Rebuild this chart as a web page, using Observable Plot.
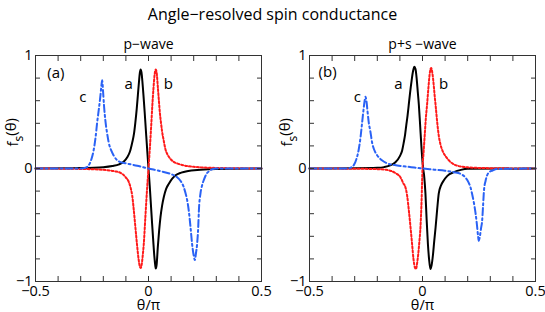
<!DOCTYPE html>
<html><head><meta charset="utf-8">
<script src="https://cdn.jsdelivr.net/npm/d3@7"></script>
<script src="https://cdn.jsdelivr.net/npm/@observablehq/plot@0.6"></script>
<style>
body{margin:0;background:#fff;}
#wrap{position:relative;width:545px;height:312px;font-family:"Open Sans",sans-serif;color:#000;overflow:hidden;background:#fff}
#title{position:absolute;top:4px;left:0;width:545px;text-align:center;font-size:16px;line-height:20px}
.panel{position:absolute;top:30px}
</style></head><body>
<div id="wrap"><div id="title">Angle−resolved spin conductance</div><div id="p1" class="panel" style="left:0"></div><div id="p2" class="panel" style="left:272px"></div></div>
<script>
// ---- tick values and labels ----
const xMinorTicks = [-0.5,-0.4,-0.3,-0.2,-0.1,0,0.1,0.2,0.3,0.4,0.5];
const yMinorTicks = [-1,-0.8,-0.6,-0.4,-0.2,0,0.2,0.4,0.6,0.8,1];
const xTickLabels = [-0.5,0,0.5];
const yTickLabels = [-1,0,1];
const panelTitles = ["p−wave","p+s −wave"];
const xLabel = "θ/π";

// ---- left panel (p-wave): [theta/pi, f_s] ----
const aLeft = [[-0.5,0],[-0.3,0.004],[-0.2,0.012],[-0.16,0.022],[-0.13,0.037],[-0.11,0.06],[-0.094,0.10],[-0.082,0.15],[-0.072,0.23],[-0.064,0.31],[-0.058,0.41],[-0.052,0.53],[-0.047,0.65],[-0.042,0.77],[-0.038,0.85],[-0.035,0.876],[-0.031,0.85],[-0.027,0.77],[-0.022,0.64],[-0.017,0.50],[-0.012,0.35],[-0.006,0.17],[0,0],[0.006,-0.17],[0.011,-0.33],[0.016,-0.49],[0.021,-0.64],[0.026,-0.78],[0.03,-0.86],[0.032,-0.885],[0.036,-0.85],[0.041,-0.70],[0.047,-0.55],[0.053,-0.43],[0.06,-0.33],[0.068,-0.25],[0.078,-0.18],[0.09,-0.135],[0.105,-0.09],[0.12,-0.06],[0.145,-0.037],[0.17,-0.024],[0.23,-0.012],[0.3,-0.005],[0.5,0]];
const bLeft = [[-0.5,0],[-0.3,-0.004],[-0.2,-0.012],[-0.15,-0.025],[-0.124,-0.038],[-0.1,-0.08],[-0.087,-0.12],[-0.078,-0.18],[-0.072,-0.24],[-0.065,-0.37],[-0.058,-0.52],[-0.051,-0.67],[-0.044,-0.80],[-0.038,-0.87],[-0.035,-0.88],[-0.031,-0.86],[-0.026,-0.78],[-0.021,-0.67],[-0.013,-0.40],[-0.006,-0.17],[0,0],[0.006,0.18],[0.012,0.38],[0.017,0.56],[0.022,0.71],[0.027,0.83],[0.032,0.876],[0.036,0.85],[0.041,0.73],[0.046,0.60],[0.05,0.50],[0.055,0.41],[0.06,0.33],[0.067,0.25],[0.075,0.17],[0.085,0.12],[0.097,0.085],[0.115,0.055],[0.134,0.04],[0.17,0.022],[0.2,0.015],[0.3,0.005],[0.5,0]];
const cLeft = [[-0.5,0],[-0.3,0],[-0.275,0.01],[-0.264,0.03],[-0.253,0.08],[-0.242,0.17],[-0.234,0.28],[-0.227,0.41],[-0.22,0.52],[-0.213,0.64],[-0.208,0.74],[-0.205,0.78],[-0.201,0.68],[-0.197,0.56],[-0.19,0.41],[-0.183,0.31],[-0.176,0.23],[-0.165,0.16],[-0.154,0.115],[-0.14,0.075],[-0.124,0.056],[-0.1,0.045],[-0.05,0.025],[0,0],[0.05,-0.022],[0.1,-0.05],[0.125,-0.075],[0.142,-0.11],[0.155,-0.16],[0.164,-0.22],[0.172,-0.29],[0.178,-0.37],[0.186,-0.52],[0.193,-0.67],[0.2,-0.77],[0.205,-0.81],[0.21,-0.75],[0.215,-0.67],[0.22,-0.52],[0.223,-0.37],[0.23,-0.22],[0.237,-0.15],[0.245,-0.10],[0.256,-0.05],[0.267,-0.025],[0.28,-0.008],[0.3,0],[0.5,0]];

// ---- right panel (p+s-wave) ----
const aRight = [[-0.5,0],[-0.3,0.002],[-0.2,0.006],[-0.17,0.012],[-0.14,0.03],[-0.12,0.056],[-0.1,0.11],[-0.09,0.16],[-0.083,0.23],[-0.077,0.30],[-0.072,0.38],[-0.066,0.47],[-0.061,0.56],[-0.055,0.67],[-0.048,0.78],[-0.042,0.86],[-0.036,0.90],[-0.031,0.88],[-0.026,0.80],[-0.021,0.68],[-0.016,0.56],[-0.011,0.40],[-0.005,0.20],[0,0.06],[0.003,0],[0.008,-0.08],[0.013,-0.22],[0.018,-0.44],[0.024,-0.67],[0.029,-0.80],[0.035,-0.89],[0.04,-0.86],[0.046,-0.77],[0.052,-0.64],[0.058,-0.52],[0.065,-0.36],[0.072,-0.22],[0.082,-0.15],[0.094,-0.106],[0.11,-0.065],[0.139,-0.032],[0.17,-0.012],[0.2,-0.003],[0.5,0]];
const bRight = [[-0.5,0],[-0.3,-0.002],[-0.2,-0.006],[-0.16,-0.012],[-0.142,-0.02],[-0.12,-0.04],[-0.097,-0.08],[-0.085,-0.13],[-0.075,-0.17],[-0.068,-0.24],[-0.06,-0.38],[-0.053,-0.52],[-0.046,-0.67],[-0.04,-0.80],[-0.033,-0.88],[-0.029,-0.89],[-0.024,-0.84],[-0.019,-0.76],[-0.014,-0.65],[-0.009,-0.52],[-0.004,-0.28],[0,0],[0.004,0.12],[0.01,0.3],[0.015,0.45],[0.02,0.56],[0.026,0.71],[0.032,0.84],[0.038,0.89],[0.044,0.84],[0.05,0.73],[0.054,0.64],[0.058,0.56],[0.065,0.41],[0.072,0.29],[0.08,0.21],[0.09,0.15],[0.1,0.115],[0.12,0.065],[0.15,0.027],[0.2,0.01],[0.3,0.003],[0.5,0]];
const cRight = [[-0.5,0],[-0.33,0],[-0.315,0.01],[-0.304,0.03],[-0.293,0.08],[-0.282,0.17],[-0.274,0.28],[-0.267,0.41],[-0.261,0.52],[-0.256,0.60],[-0.252,0.635],[-0.247,0.58],[-0.243,0.50],[-0.238,0.41],[-0.23,0.32],[-0.223,0.23],[-0.208,0.14],[-0.2,0.115],[-0.178,0.07],[-0.156,0.045],[-0.112,0.027],[-0.05,0.012],[0,0],[0.05,-0.01],[0.1,-0.02],[0.14,-0.033],[0.168,-0.047],[0.19,-0.08],[0.203,-0.12],[0.212,-0.165],[0.22,-0.23],[0.228,-0.31],[0.235,-0.40],[0.241,-0.50],[0.246,-0.60],[0.249,-0.64],[0.254,-0.60],[0.259,-0.53],[0.264,-0.46],[0.268,-0.33],[0.272,-0.195],[0.279,-0.11],[0.286,-0.06],[0.297,-0.03],[0.31,-0.018],[0.33,-0.005],[0.5,0]];

// ---- annotations ----
const notesLeft = [{t:"(a)",x:-0.41,y:0.84},{t:"c",x:-0.29,y:0.63},{t:"a",x:-0.088,y:0.75},{t:"b",x:0.088,y:0.75}];
const notesRight = [{t:"(b)",x:-0.42,y:0.85},{t:"c",x:-0.288,y:0.63},{t:"a",x:-0.106,y:0.75},{t:"b",x:0.093,y:0.75}];

const H = 282, MT = 25, MB = 31, TICK = 5;
const fmt = d => (d < 0 ? "−" : "") + Math.abs(d);
const blank = () => "";

function panel(cfg){
  const W = cfg.width, ML = cfg.ml, MR = cfg.mr;
  const X = d => d[0], Y = d => d[1];
  const tickStyle = {tickSize: -TICK, tickFormat: blank, label: null, stroke: "#333", strokeWidth: 1};
  const svg = Plot.plot({
    width: W, height: H, marginLeft: ML, marginRight: MR, marginTop: MT, marginBottom: MB,
    style: {fontFamily: '"Open Sans", sans-serif', fontSize: "14px", background: "white", color: "black", overflow: "visible"},
    x: {domain: [-0.5, 0.5]},
    y: {domain: [-1, 1]},
    marks: [
      Plot.line(cfg.a, {x: X, y: Y, stroke: "black", strokeWidth: 2, curve: "monotone-x"}),
      Plot.line(cfg.b, {x: X, y: Y, stroke: "#ff1a1a", strokeWidth: 2, strokeDasharray: "2,2", curve: "monotone-x"}),
      Plot.line(cfg.c, {x: X, y: Y, stroke: "#2a62f5", strokeWidth: 2, strokeDasharray: "7,3,2,3", curve: "monotone-x"}),
      Plot.frame({stroke: "#333", strokeWidth: 1}),
      Plot.axisX(xMinorTicks, {anchor: "bottom", ...tickStyle}),
      Plot.axisX(xMinorTicks, {anchor: "top", ...tickStyle}),
      Plot.axisY(yMinorTicks, {anchor: "left", ...tickStyle}),
      Plot.axisY(yMinorTicks, {anchor: "right", ...tickStyle}),
      Plot.axisX(xTickLabels, {anchor: "bottom", tickSize: 0, tickPadding: 4, label: null, fontSize: 14.5, tickFormat: fmt}),
      Plot.axisY(yTickLabels, {anchor: "left", tickSize: 0, tickPadding: 3, label: null, fontSize: 14.5, tickFormat: fmt}),
      Plot.text([xLabel], {frameAnchor: "bottom", dy: 28, fontSize: 14.5}),
      Plot.text([cfg.title], {frameAnchor: "top", lineAnchor: "bottom", dy: -7, fontSize: 14}),
      Plot.text(["f"], {frameAnchor: "left", dx: -22, dy: -22, rotate: -90, fontSize: 15}),
      Plot.text(cfg.notes, {x: "x", y: "y", text: "t", fontSize: 15})
    ]
  });
  const t = Array.from(svg.querySelectorAll("text")).find(e => e.textContent === "f");
  if (t) {
    t.textContent = "";
    const ns = "http://www.w3.org/2000/svg";
    const t1 = document.createElementNS(ns, "tspan"); t1.textContent = "f"; t.appendChild(t1);
    const t2 = document.createElementNS(ns, "tspan"); t2.textContent = "s"; t2.setAttribute("dy", "0.35em"); t2.setAttribute("font-size", "12"); t.appendChild(t2);
    const t3 = document.createElementNS(ns, "tspan"); t3.textContent = "(θ)"; t3.setAttribute("dy", "-0.45em"); t.appendChild(t3);
  }
  return svg;
}

document.getElementById("p1").appendChild(panel({width: 272, ml: 35, mr: 11, a: aLeft, b: bLeft, c: cLeft, notes: notesLeft, title: panelTitles[0]}));
document.getElementById("p2").appendChild(panel({width: 273, ml: 37, mr: 10, a: aRight, b: bRight, c: cRight, notes: notesRight, title: panelTitles[1]}));
</script>
</body></html>
